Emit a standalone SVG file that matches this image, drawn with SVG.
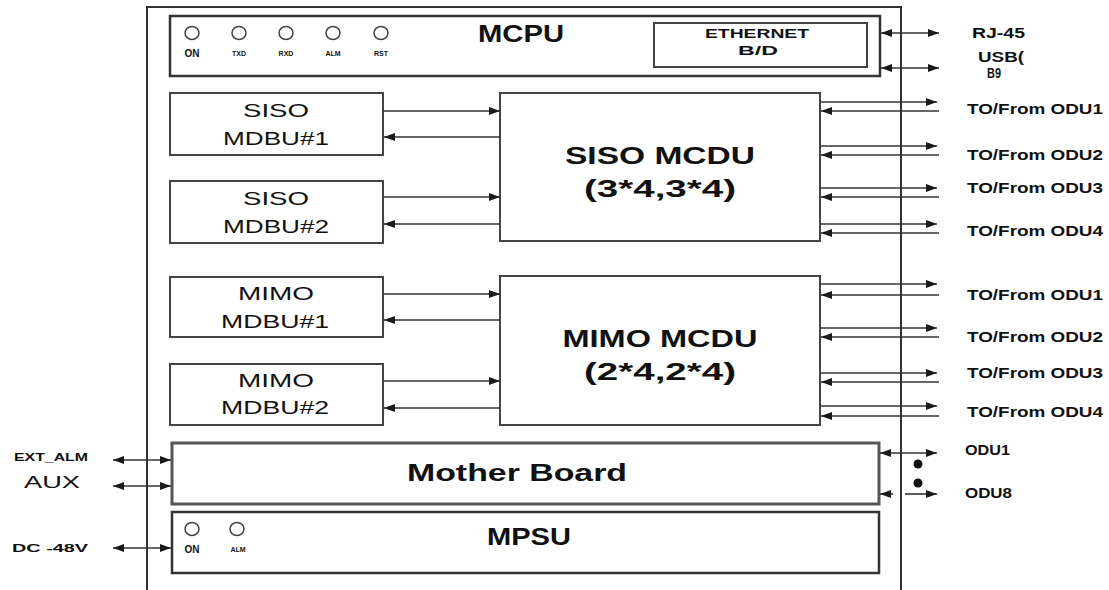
<svg xmlns="http://www.w3.org/2000/svg" width="1109" height="590" viewBox="0 0 1109 590">
<defs>
<marker id="ah" markerUnits="userSpaceOnUse" markerWidth="13" markerHeight="9" refX="11" refY="4" orient="auto-start-reverse">
<path d="M0,0 L11,4 L0,8 z" fill="#1a1a1a"/>
</marker>
<style>
.box{fill:#fff;stroke:#333;stroke-width:2.5}
.thin{fill:#fff;stroke:#444;stroke-width:2}
.frame{fill:none;stroke:#333;stroke-width:2}
.c{fill:none;stroke:#333;stroke-width:1.6}
.a{fill:none;stroke:#333;stroke-width:1.6;marker-end:url(#ah)}
.aa{fill:none;stroke:#333;stroke-width:1.6;marker-start:url(#ah);marker-end:url(#ah)}
.as{fill:none;stroke:#333;stroke-width:1.6;marker-start:url(#ah)}
.led{fill:#fff;stroke:#444;stroke-width:1.5}
text{font-family:"Liberation Sans",Arial,sans-serif;fill:#111}
.big{font-size:23px;font-weight:bold;text-anchor:middle}
.mid{font-size:19px;text-anchor:middle}
.lbl{font-size:14px;font-weight:bold}
.sm{font-size:11px;font-weight:bold}
.tiny{font-size:7px;font-weight:bold;text-anchor:middle}
.on{font-size:10px;font-weight:bold;text-anchor:middle}
</style>
</defs>

<g id="frame">
<path class="frame" d="M147,590 V7 H901 V590"/>
</g>

<g id="mcpu">
<rect class="box" x="170" y="16" width="710" height="60"/>
<ellipse class="led" cx="192" cy="33" rx="7" ry="6.5"/>
<ellipse class="led" cx="239" cy="33" rx="7" ry="6.5"/>
<ellipse class="led" cx="286" cy="33" rx="7" ry="6.5"/>
<ellipse class="led" cx="333" cy="33" rx="7" ry="6.5"/>
<ellipse class="led" cx="381" cy="33" rx="7" ry="6.5"/>
<text class="on" x="192" y="57">ON</text>
<text class="tiny" x="239" y="56">TXD</text>
<text class="tiny" x="286" y="56">RXD</text>
<text class="tiny" x="333" y="56">ALM</text>
<text class="tiny" x="381" y="56">RST</text>
<text class="big" x="521" y="42" font-size="19" textLength="86" lengthAdjust="spacingAndGlyphs">MCPU</text>
</g>

<g id="ethernet-bd">
<rect class="thin" x="654" y="23" width="213" height="44"/>
<text x="757" y="38" font-size="13" font-weight="bold" text-anchor="middle" textLength="104" lengthAdjust="spacingAndGlyphs">ETHERNET</text>
<text x="758" y="55" font-size="13" font-weight="bold" text-anchor="middle" textLength="40" lengthAdjust="spacingAndGlyphs">B/D</text>
</g>

<g id="siso-mdbu1">
<rect class="thin" x="170" y="93" width="213" height="62"/>
<text class="mid" x="276" y="117" textLength="66" lengthAdjust="spacingAndGlyphs">SISO</text>
<text class="mid" x="276" y="145" textLength="106" lengthAdjust="spacingAndGlyphs">MDBU#1</text>
</g>
<g id="siso-mdbu2">
<rect class="thin" x="170" y="181" width="213" height="62"/>
<text class="mid" x="276" y="205" textLength="66" lengthAdjust="spacingAndGlyphs">SISO</text>
<text class="mid" x="276" y="233" textLength="106" lengthAdjust="spacingAndGlyphs">MDBU#2</text>
</g>
<g id="siso-mcdu">
<rect class="thin" x="500" y="93" width="320" height="148"/>
<text class="big" x="660" y="164" textLength="190" lengthAdjust="spacingAndGlyphs">SISO MCDU</text>
<text class="big" x="660" y="197" textLength="152" lengthAdjust="spacingAndGlyphs">(3*4,3*4)</text>
</g>

<g id="mimo-mdbu1">
<rect class="thin" x="170" y="277" width="213" height="60"/>
<text class="mid" x="276" y="300" textLength="76" lengthAdjust="spacingAndGlyphs">MIMO</text>
<text class="mid" x="275" y="328" textLength="108" lengthAdjust="spacingAndGlyphs">MDBU#1</text>
</g>
<g id="mimo-mdbu2">
<rect class="thin" x="170" y="364" width="213" height="61"/>
<text class="mid" x="276" y="387" textLength="76" lengthAdjust="spacingAndGlyphs">MIMO</text>
<text class="mid" x="275" y="414" textLength="108" lengthAdjust="spacingAndGlyphs">MDBU#2</text>
</g>
<g id="mimo-mcdu">
<rect class="thin" x="500" y="276" width="320" height="149"/>
<text class="big" x="660" y="347" textLength="195" lengthAdjust="spacingAndGlyphs">MIMO MCDU</text>
<text class="big" x="660" y="380" textLength="152" lengthAdjust="spacingAndGlyphs">(2*4,2*4)</text>
</g>

<g id="mother-board">
<rect class="box" x="172" y="443" width="707" height="61" style="stroke:#555;stroke-width:3"/>
<text class="big" x="517" y="481" font-size="20" textLength="220" lengthAdjust="spacingAndGlyphs">Mother Board</text>
</g>

<g id="mpsu">
<rect class="box" x="172" y="512" width="707" height="61"/>
<ellipse class="led" cx="192" cy="529" rx="7" ry="6.5"/>
<ellipse class="led" cx="237" cy="529" rx="7" ry="6.5"/>
<text class="on" x="192" y="553">ON</text>
<text class="tiny" x="238" y="552">ALM</text>
<text class="big" x="529" y="545" font-size="19" textLength="84" lengthAdjust="spacingAndGlyphs">MPSU</text>
</g>

<g id="external-labels">
<text class="lbl" x="972" y="38" font-size="13" textLength="53" lengthAdjust="spacingAndGlyphs">RJ-45</text>
<text class="lbl" x="978" y="62" font-size="12" textLength="46" lengthAdjust="spacingAndGlyphs">USB(</text>
<text class="lbl" x="987" y="78" font-size="10" textLength="14" lengthAdjust="spacingAndGlyphs">B9</text>
<text class="lbl" x="967" y="114" textLength="136" lengthAdjust="spacingAndGlyphs">TO/From ODU1</text>
<text class="lbl" x="967" y="160" textLength="136" lengthAdjust="spacingAndGlyphs">TO/From ODU2</text>
<text class="lbl" x="967" y="193" textLength="136" lengthAdjust="spacingAndGlyphs">TO/From ODU3</text>
<text class="lbl" x="967" y="236" textLength="136" lengthAdjust="spacingAndGlyphs">TO/From ODU4</text>
<text class="lbl" x="967" y="300" textLength="136" lengthAdjust="spacingAndGlyphs">TO/From ODU1</text>
<text class="lbl" x="967" y="342" textLength="136" lengthAdjust="spacingAndGlyphs">TO/From ODU2</text>
<text class="lbl" x="967" y="378" textLength="136" lengthAdjust="spacingAndGlyphs">TO/From ODU3</text>
<text class="lbl" x="967" y="417" textLength="136" lengthAdjust="spacingAndGlyphs">TO/From ODU4</text>
<text class="lbl" x="965" y="455" font-size="12" textLength="45" lengthAdjust="spacingAndGlyphs">ODU1</text>
<text class="lbl" x="965" y="498" font-size="12" textLength="47" lengthAdjust="spacingAndGlyphs">ODU8</text>
<text class="sm" x="14" y="461" textLength="74" lengthAdjust="spacingAndGlyphs">EXT_ALM</text>
<text x="24" y="488" font-size="17" textLength="56" lengthAdjust="spacingAndGlyphs">AUX</text>
<text class="sm" x="12" y="552" textLength="76" lengthAdjust="spacingAndGlyphs">DC -48V</text>
</g>

<g id="connectors">
<line class="aa" x1="881" y1="33" x2="939" y2="33"/>
<line class="aa" x1="881" y1="68" x2="939" y2="68"/>

<line class="a" x1="383" y1="111" x2="500" y2="111"/>
<line class="a" x1="500" y1="137" x2="384" y2="137"/>
<line class="a" x1="383" y1="197" x2="500" y2="197"/>
<line class="a" x1="500" y1="224" x2="384" y2="224"/>
<line class="a" x1="383" y1="294" x2="500" y2="294"/>
<line class="a" x1="500" y1="320" x2="384" y2="320"/>
<line class="a" x1="383" y1="381" x2="500" y2="381"/>
<line class="a" x1="500" y1="408" x2="384" y2="408"/>

<line class="a" x1="820" y1="102" x2="937" y2="102"/>
<line class="a" x1="939" y1="111" x2="821" y2="111"/>
<line class="a" x1="820" y1="146" x2="937" y2="146"/>
<line class="a" x1="939" y1="155" x2="821" y2="155"/>
<line class="a" x1="820" y1="188" x2="937" y2="188"/>
<line class="a" x1="939" y1="197" x2="821" y2="197"/>
<line class="a" x1="820" y1="224" x2="937" y2="224"/>
<line class="a" x1="939" y1="233" x2="821" y2="233"/>

<line class="a" x1="820" y1="284" x2="937" y2="284"/>
<line class="a" x1="939" y1="295" x2="821" y2="295"/>
<line class="a" x1="820" y1="328" x2="937" y2="328"/>
<line class="a" x1="939" y1="337" x2="821" y2="337"/>
<line class="a" x1="820" y1="373" x2="937" y2="373"/>
<line class="a" x1="939" y1="382" x2="821" y2="382"/>
<line class="a" x1="820" y1="406" x2="937" y2="406"/>
<line class="a" x1="939" y1="416" x2="821" y2="416"/>

<line class="aa" x1="113" y1="460" x2="171" y2="460"/>
<line class="aa" x1="113" y1="486" x2="171" y2="486"/>
<line class="aa" x1="113" y1="548" x2="171" y2="548"/>

<line class="aa" x1="880" y1="453" x2="937" y2="453"/>
<line class="as" x1="880" y1="494" x2="893" y2="494"/>
<line class="a" x1="905" y1="494" x2="937" y2="494"/>
<circle cx="918" cy="464" r="4.5" fill="#111"/>
<circle cx="918" cy="483" r="4.5" fill="#111"/>
</g>
</svg>
